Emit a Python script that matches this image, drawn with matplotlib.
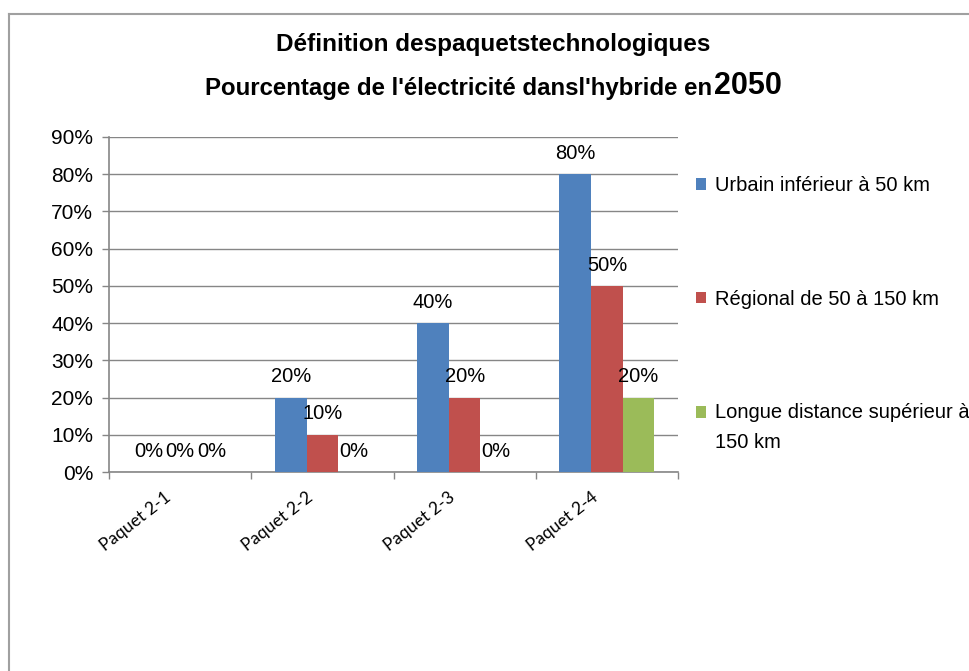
import matplotlib
matplotlib.use("Agg")
import matplotlib.pyplot as plt
import numpy as np
from matplotlib.lines import Line2D
from matplotlib.patches import Rectangle
from matplotlib.legend_handler import HandlerPatch
from matplotlib.ticker import MultipleLocator, FuncFormatter
from matplotlib.transforms import ScaledTranslation

categories = ["Paquet 2-1", "Paquet 2-2", "Paquet 2-3", "Paquet 2-4"]
series_names = ["Urbain inférieur à 50 km", "Régional de 50 à 150 km",
                "Longue distance supérieur à\n150 km"]
urbain = [0, 20, 40, 80]
regional = [0, 10, 20, 50]
longue = [0, 0, 0, 20]
series = [urbain, regional, longue]
colors = ["#4F81BD", "#C0504D", "#9BBB59"]

W, H = 969, 671
fig = plt.figure(figsize=(W / 100, H / 100), dpi=100)
fig.patch.set_facecolor("white")

# outer frame (left and top edges visible)
fig.add_artist(Line2D([9 / W, 9 / W], [0, 1 - 14 / H], color="#A0A0A0", lw=1.5,
                      transform=fig.transFigure))
fig.add_artist(Line2D([9 / W, 1], [1 - 14 / H, 1 - 14 / H], color="#A0A0A0", lw=1.5,
                      transform=fig.transFigure))

ax = fig.add_axes([109 / W, 1 - 472 / H, (678 - 109) / W, (472 - 137) / H])

font = "Liberation Sans"
fs = 14.5
x = np.arange(len(categories))
bw = 1 / 4.5
handles = []
for i, (vals, c) in enumerate(zip(series, colors)):
    pos = x + (i - 1) * bw
    b = ax.bar(pos, vals, width=bw, color=c, edgecolor="none", zorder=3,
               label=series_names[i])
    handles.append(b)
    for px, v in zip(pos, vals):
        ax.annotate(f"{v}%", (px, v), xytext=(0, 15), textcoords="offset points",
                    ha="center", va="center", fontsize=fs, family=font, zorder=4)

ax.set_xlim(-0.5, len(categories) - 0.5)
ax.set_ylim(0, 90)
ax.yaxis.set_major_locator(MultipleLocator(10))
ax.yaxis.set_major_formatter(FuncFormatter(lambda v, p: f"{int(round(v))}%"))
ax.grid(axis="y", color="#868686", lw=1, zorder=0)
ax.set_axisbelow(True)
for s in ["top", "right"]:
    ax.spines[s].set_visible(False)
for s in ["left", "bottom"]:
    ax.spines[s].set_color("#868686")
    ax.spines[s].set_linewidth(1.2)
ax.tick_params(axis="y", direction="out", length=5, color="#868686", width=1,
               labelsize=15, pad=6.5)
for lab in ax.get_yticklabels():
    lab.set_family(font)

ax.set_xticks(x)
ax.set_xticklabels(categories, rotation=38, ha="right", rotation_mode="anchor",
                   fontsize=12.5, family="Lato")
ax.set_xticks(np.arange(-0.5, len(categories)), minor=True)
ax.tick_params(axis="x", which="major", length=0, pad=12)
ax.tick_params(axis="x", which="minor", direction="out", length=5, color="#868686", width=1)
shift = ScaledTranslation(-16 / 100, 0, fig.dpi_scale_trans)
for lab in ax.get_xticklabels():
    lab.set_transform(lab.get_transform() + shift)


class RaisedPatch(HandlerPatch):
    def __init__(self, dy=0, **kw):
        super().__init__(**kw)
        self.dy = dy

    def create_artists(self, legend, orig_handle, xdescent, ydescent, width,
                       height, fontsize, trans):
        r = Rectangle((-xdescent, -ydescent + self.dy), width, height,
                      facecolor=orig_handle.patches[0].get_facecolor(),
                      edgecolor="none", transform=trans)
        return [r]


leg = fig.legend(handles=handles, labels=series_names, loc="upper left",
                 bbox_to_anchor=(696 / W, 1 - 176 / H), frameon=False,
                 prop={"family": font, "size": fs}, handlelength=0.5,
                 handleheight=0.5, handletextpad=0.45, labelspacing=4.7,
                 borderaxespad=0, borderpad=0,
                 handler_map={handles[0]: RaisedPatch(0), handles[1]: RaisedPatch(0),
                              handles[2]: RaisedPatch(11.5)})
for t in leg.get_texts():
    t.set_linespacing(1.7)

fig.text(493 / W, 1 - 45 / H, "Définition despaquetstechnologiques", ha="center",
         va="center", fontsize=17.5, fontweight="bold", family=font)
fig.text(712 / W, 1 - 88 / H, "Pourcentage de l'électricité dansl'hybride en",
         ha="right", va="center", fontsize=17.3, fontweight="bold", family=font)
fig.text(714 / W, 1 - 86 / H, "2050", ha="left", va="center", fontsize=22,
         fontweight="bold", family=font)

fig.savefig("out.png", dpi=100, facecolor="white")
